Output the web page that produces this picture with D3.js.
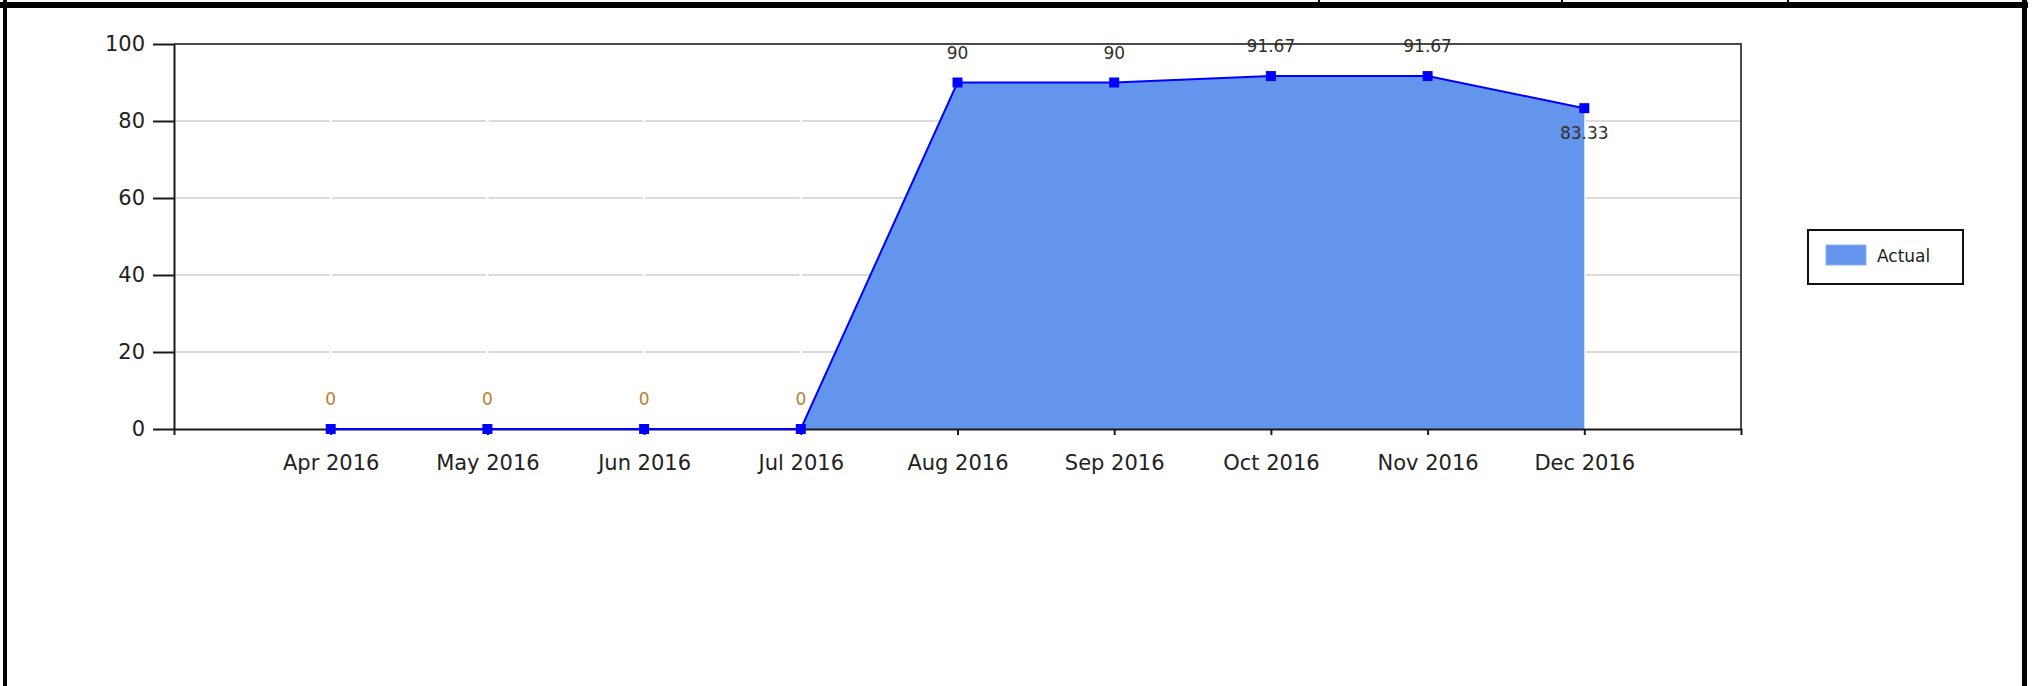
<!DOCTYPE html>
<html>
<head>
<meta charset="utf-8">
<script src="https://cdn.jsdelivr.net/npm/d3@7"></script>
<style>
  html, body { margin: 0; padding: 0; background: #fff; }
  svg { display: block; }
  text { font-family: "DejaVu Sans", sans-serif; }
</style>
</head>
<body>
<svg id="chart" width="2043" height="686"></svg>
<script>
// Monthly "Actual" values, April to December 2016
const months = ["Apr 2016", "May 2016", "Jun 2016", "Jul 2016", "Aug 2016",
                "Sep 2016", "Oct 2016", "Nov 2016", "Dec 2016"];
const actual = [0, 0, 0, 0, 90, 90, 91.67, 91.67, 83.33];
const yTicks = [0, 20, 40, 60, 80, 100];
const seriesName = "Actual";

const svg = d3.select("#chart");
const W = 2043, H = 686;

// Plot rectangle
const plot = { left: 174, right: 1741, top: 44, bottom: 429 };

const x = d3.scalePoint().domain(months)
  .range([plot.left, plot.right]).padding(1);
const y = d3.scaleLinear().domain([0, 100])
  .range([plot.bottom, plot.top]);

// Surrounding report frame
const frame = svg.append("g");
frame.append("rect").attr("x", 0).attr("y", 2).attr("width", 2028).attr("height", 6).attr("fill", "#000");
frame.append("rect").attr("x", 3).attr("y", 0).attr("width", 4).attr("height", H).attr("fill", "#000");
frame.append("rect").attr("x", 2022).attr("y", 0).attr("width", 5).attr("height", H).attr("fill", "#000");
[1319, 1562, 1788].forEach(px => {
  frame.append("rect").attr("x", px - 1).attr("y", 0).attr("width", 2).attr("height", 3).attr("fill", "#000");
});

// Horizontal gridlines (broken at each category position)
const step = x.step();
svg.append("g").selectAll("line")
  .data(yTicks.filter(t => t > 0 && t < 100))
  .join("line")
  .attr("x1", plot.left).attr("x2", plot.right)
  .attr("y1", d => y(d)).attr("y2", d => y(d))
  .attr("stroke", "#cfcfcf")
  .attr("stroke-width", 1.5)
  .attr("stroke-dasharray", `${step - 2.5} 2.5`)
  .attr("stroke-dashoffset", -1.25);

// Plot border (top and right)
svg.append("path")
  .attr("d", `M${plot.left},${plot.top}H${plot.right}V${plot.bottom}`)
  .attr("fill", "none")
  .attr("stroke", "#4a4a4a")
  .attr("stroke-width", 2);

// Area and line
const pts = months.map((m, i) => ({ m, v: actual[i], i }));
const area = d3.area()
  .x(d => x(d.m))
  .y0(y(0))
  .y1(d => y(d.v));
const line = d3.line()
  .x(d => x(d.m))
  .y(d => y(d.v));

svg.append("path")
  .datum(pts)
  .attr("d", area)
  .attr("fill", "#6495ED");

// Axes
const yAxis = d3.axisLeft(y).tickValues(yTicks)
  .tickSize(21).tickSizeOuter(0).tickPadding(8);
const gy = svg.append("g")
  .attr("transform", `translate(${plot.left},0)`)
  .call(yAxis);
gy.selectAll("text").attr("font-size", 21).attr("fill", "#222")
  .attr("font-family", "DejaVu Sans, sans-serif");
gy.selectAll("line, path").attr("stroke", "#1a1a1a").attr("stroke-width", 2);

const xAxis = d3.axisBottom(x).tickSize(6).tickSizeOuter(6).tickPadding(20);
const gx = svg.append("g")
  .attr("transform", `translate(0,${plot.bottom})`)
  .call(xAxis);
gx.selectAll("text").attr("font-size", 21).attr("fill", "#222")
  .attr("font-family", "DejaVu Sans, sans-serif");
gx.selectAll("line, path").attr("stroke", "#1a1a1a").attr("stroke-width", 2);

svg.append("path")
  .datum(pts)
  .attr("d", line)
  .attr("fill", "none")
  .attr("stroke", "#0000FF")
  .attr("stroke-width", 2);

// Point markers
svg.append("g").selectAll("rect")
  .data(pts)
  .join("rect")
  .attr("x", d => x(d.m) - 5)
  .attr("y", d => y(d.v) - 5)
  .attr("width", 10).attr("height", 10)
  .attr("fill", "#0000FF");

// Value labels: above the point, or below when the series falls into it
const fmt = v => (Math.round(v * 100) / 100).toString();
svg.append("g").selectAll("text")
  .data(pts)
  .join("text")
  .attr("x", d => x(d.m))
  .attr("y", d => {
    const below = d.i > 0 && actual[d.i - 1] > d.v;
    return below ? y(d.v) + 31 : y(d.v) - 24;
  })
  .attr("text-anchor", "middle")
  .attr("font-size", 17)
  .attr("fill", d => d.v === 0 ? "#b8802e" : "#33302a")
  .text(d => fmt(d.v));

// Legend
const lg = svg.append("g");
lg.append("rect")
  .attr("x", 1808).attr("y", 230).attr("width", 155).attr("height", 54)
  .attr("fill", "#fff").attr("stroke", "#111").attr("stroke-width", 2);
lg.append("rect")
  .attr("x", 1826).attr("y", 245).attr("width", 40).attr("height", 20)
  .attr("fill", "#6495ED").attr("stroke", "#8fb0f0").attr("stroke-width", 1);
lg.append("text")
  .attr("x", 1877).attr("y", 262)
  .attr("font-size", 17)
  .attr("fill", "#222")
  .text(seriesName);
</script>
</body>
</html>
